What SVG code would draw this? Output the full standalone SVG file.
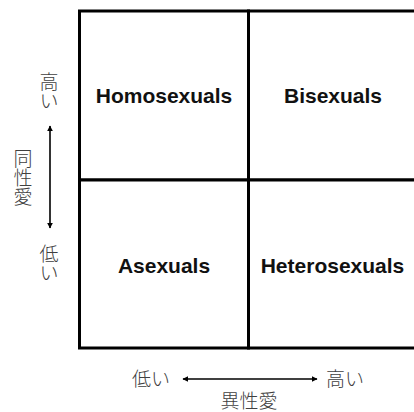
<svg xmlns="http://www.w3.org/2000/svg" width="414" height="412" viewBox="0 0 414 412">
<style>
.cell{fill:#fff;stroke:#000;stroke-width:3}
.lbl{font-family:"Liberation Sans",Arial,sans-serif;font-weight:bold;font-size:21px;fill:#111;text-anchor:middle}
.jp{font-family:"Noto Sans CJK JP","Noto Sans",sans-serif;font-size:19px;fill:#404040;text-anchor:middle;font-weight:300}
.jv{font-family:"Noto Sans CJK JP","Noto Sans",sans-serif;font-size:19px;fill:#404040;font-weight:300;writing-mode:vertical-rl;text-anchor:start}
.ax{stroke:#000;stroke-width:1.6;fill:none}
</style>
<defs>
<marker id="ah" viewBox="0 0 10 10" refX="9" refY="5" markerWidth="6" markerHeight="6" orient="auto-start-reverse" markerUnits="userSpaceOnUse">
<path d="M0,0 L10,5 L0,10 z" fill="#000"/>
</marker>
</defs>
<rect width="414" height="412" fill="#fff"/>
<g id="homosexuals"><rect class="cell" x="79.5" y="11" width="169" height="169"/><text class="lbl" x="164" y="103">Homosexuals</text></g>
<g id="bisexuals"><rect class="cell" x="248.5" y="11" width="170" height="169"/><text class="lbl" x="333" y="103">Bisexuals</text></g>
<g id="asexuals"><rect class="cell" x="79.5" y="180" width="169" height="168"/><text class="lbl" x="164" y="273">Asexuals</text></g>
<g id="heterosexuals"><rect class="cell" x="248.5" y="180" width="170" height="168"/><text class="lbl" x="332.5" y="273">Heterosexuals</text></g>
<g id="connectors">
<line class="ax" x1="50" y1="126" x2="50" y2="228" marker-start="url(#ah)" marker-end="url(#ah)"/>
<line class="ax" x1="183" y1="379" x2="317" y2="379" marker-start="url(#ah)" marker-end="url(#ah)"/>
</g>
<g id="y-axis-labels">
<text class="jv" x="49" y="72">高い</text>
<text class="jv" x="23" y="149">同性愛</text>
<text class="jv" x="49" y="244">低い</text>
</g>
<g id="x-axis-labels">
<text class="jp" x="151" y="386">低い</text>
<text class="jp" x="345" y="386">高い</text>
<text class="jp" x="249" y="408">異性愛</text>
</g>
</svg>
